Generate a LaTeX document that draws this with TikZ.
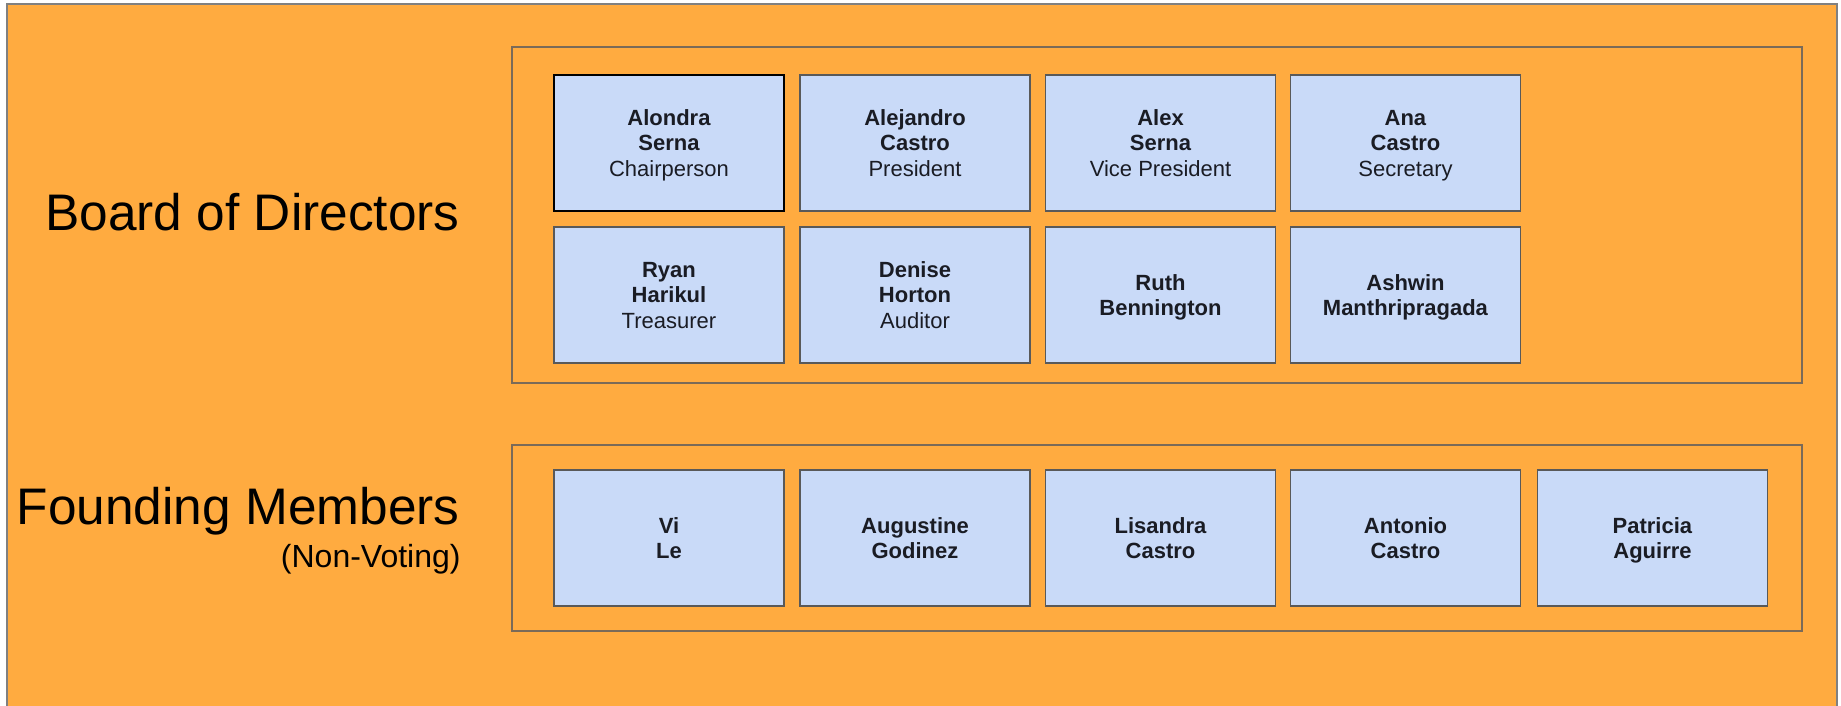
\documentclass[tikz,border=0pt]{standalone}
\usepackage{fontspec}
\setmainfont{Liberation Sans}
\definecolor{bgorange}{HTML}{FFAB40}
\definecolor{boxblue}{HTML}{C9DAF8}
\definecolor{boxline}{HTML}{595959}
\definecolor{frameline}{HTML}{7A6A58}
\definecolor{txt}{HTML}{1A1C24}
\newcommand{\pcell}[1]{\raisebox{-1.4pt}[\height][\depth]{\begin{tabular}{@{}c@{}}#1\end{tabular}}}
\tikzset{
  person/.style={draw=boxline, line width=0.6pt, fill=boxblue, minimum width=115pt, minimum height=68pt,
    inner sep=0pt, text=txt, font=\fontsize{11}{12.9}\selectfont},
  chair/.style={person, draw=black, line width=0.9pt},
  group/.style={draw=frameline, line width=0.6pt, inner sep=0pt},
  title/.style={anchor=base east, text=black, inner sep=0pt, font=\fontsize{25.7}{30}\selectfont},
  subtitle/.style={anchor=base east, text=black, inner sep=0pt, font=\fontsize{16}{19}\selectfont}
}
\begin{document}
\begin{tikzpicture}[x=0.5pt, y=-0.5pt]
\useasboundingbox (0,0) rectangle (1841,706);
\fill[white] (0,0) rectangle (1841,706);
\draw[fill=bgorange, draw=gray, line width=0.7pt] (7,4) rectangle (1837,730);

\node[group, minimum width=645pt, minimum height=168pt] (board) at (1157,215) {};
\node[group, minimum width=645pt, minimum height=93pt] (founders) at (1157,538) {};

\node[title] (boardlbl) at (460,230) {Board of Directors};
\node[title] (foundlbl) at (460,524) {Founding Members};
\node[subtitle] (nonvote) at (461,567) {(Non-Voting)};

\node[chair]  (b1) at (669,143)    {\pcell{\textbf{Alondra}\\\textbf{Serna}\\Chairperson}};
\node[person] (b2) at (915,143)    {\pcell{\textbf{Alejandro}\\\textbf{Castro}\\President}};
\node[person] (b3) at (1160.5,143) {\pcell{\textbf{Alex}\\\textbf{Serna}\\Vice President}};
\node[person] (b4) at (1405.5,143) {\pcell{\textbf{Ana}\\\textbf{Castro}\\Secretary}};

\node[person] (b5) at (669,295)    {\pcell{\textbf{Ryan}\\\textbf{Harikul}\\Treasurer}};
\node[person] (b6) at (915,295)    {\pcell{\textbf{Denise}\\\textbf{Horton}\\Auditor}};
\node[person] (b7) at (1160.5,295) {\pcell{\textbf{Ruth}\\\textbf{Bennington}}};
\node[person] (b8) at (1405.5,295) {\pcell{\textbf{Ashwin}\\\textbf{Manthripragada}}};

\node[person] (f1) at (669,538)    {\pcell{\textbf{Vi}\\\textbf{Le}}};
\node[person] (f2) at (915,538)    {\pcell{\textbf{Augustine}\\\textbf{Godinez}}};
\node[person] (f3) at (1160.5,538) {\pcell{\textbf{Lisandra}\\\textbf{Castro}}};
\node[person] (f4) at (1405.5,538) {\pcell{\textbf{Antonio}\\\textbf{Castro}}};
\node[person] (f5) at (1652.5,538) {\pcell{\textbf{Patricia}\\\textbf{Aguirre}}};
\end{tikzpicture}
\end{document}
